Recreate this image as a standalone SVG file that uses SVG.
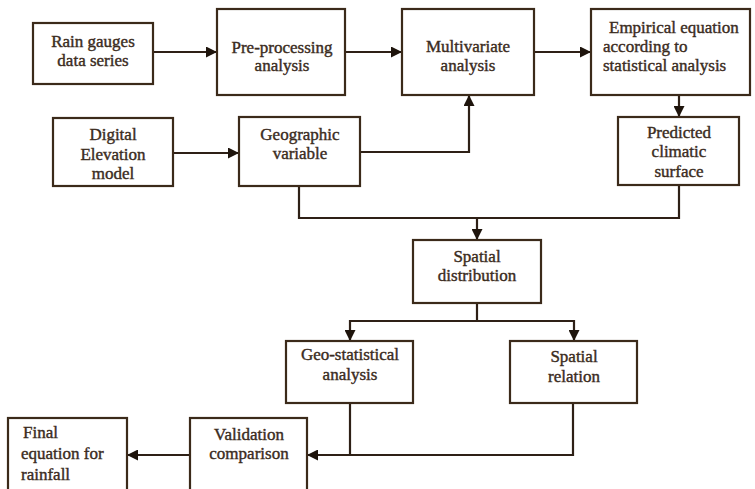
<svg xmlns="http://www.w3.org/2000/svg" width="755" height="489" viewBox="0 0 755 489">
<style>
.box{fill:#ffffff;stroke:#3b2a1a;stroke-width:2.2}
.t{font-family:"Liberation Serif","Times New Roman",serif;font-size:17px;fill:#3b2c1e;text-anchor:middle;stroke:#3b2c1e;stroke-width:0.4}
.ts{text-anchor:start}
.c{fill:none;stroke:#2e2016;stroke-width:2.2}
</style>
<defs>
<marker id="ah" viewBox="0 0 10 10" refX="10" refY="5" markerWidth="5.2" markerHeight="5" orient="auto" markerUnits="strokeWidth">
<path d="M0,0 L10,5 L0,10 z" fill="#1e140c"/>
</marker>
</defs>
<rect width="755" height="489" fill="#ffffff"/>
<g id="connectors">
<line class="c" x1="153" y1="52" x2="217" y2="52" marker-end="url(#ah)"/>
<line class="c" x1="345" y1="52" x2="402" y2="52" marker-end="url(#ah)"/>
<line class="c" x1="534" y1="52" x2="591" y2="52" marker-end="url(#ah)"/>
<line class="c" x1="173" y1="153" x2="239" y2="153" marker-end="url(#ah)"/>
<polyline class="c" points="360,152 469,152 469,95" marker-end="url(#ah)"/>
<line class="c" x1="679" y1="95" x2="679" y2="117" marker-end="url(#ah)"/>
<polyline class="c" points="299,186 299,218 679,218 679,185"/>
<line class="c" x1="477" y1="218" x2="477" y2="240" marker-end="url(#ah)"/>
<polyline class="c" points="477,303 477,321 350,321 350,341" marker-end="url(#ah)"/>
<polyline class="c" points="477,321 574,321 574,341" marker-end="url(#ah)"/>
<polyline class="c" points="573,403 573,455 307,455" marker-end="url(#ah)"/>
<line class="c" x1="350" y1="403" x2="350" y2="455"/>
<line class="c" x1="190" y1="455" x2="127" y2="455" marker-end="url(#ah)"/>
</g>
<g id="rain">
<rect class="box" x="33" y="23" width="120" height="61"/>
<text class="t" x="93" y="47">Rain gauges</text>
<text class="t" x="93" y="66">data series</text>
</g>
<g id="preproc">
<rect class="box" x="217" y="9" width="128" height="86"/>
<text class="t" x="282" y="53">Pre-processing</text>
<text class="t" x="282" y="71">analysis</text>
</g>
<g id="multi">
<rect class="box" x="402" y="9" width="132" height="86"/>
<text class="t" x="468" y="52">Multivariate</text>
<text class="t" x="468" y="71">analysis</text>
</g>
<g id="empirical">
<rect class="box" x="591" y="9" width="159" height="86"/>
<text class="t ts" x="609" y="33">Empirical equation</text>
<text class="t ts" x="603" y="52">according to</text>
<text class="t ts" x="603" y="71">statistical analysis</text>
</g>
<g id="dem">
<rect class="box" x="53" y="118" width="120" height="68"/>
<text class="t" x="113" y="140">Digital</text>
<text class="t" x="113" y="160">Elevation</text>
<text class="t" x="113" y="179">model</text>
</g>
<g id="geo">
<rect class="box" x="239" y="117" width="121" height="69"/>
<text class="t" x="300" y="140">Geographic</text>
<text class="t" x="300" y="159">variable</text>
</g>
<g id="predicted">
<rect class="box" x="618" y="117" width="121" height="68"/>
<text class="t" x="679" y="138">Predicted</text>
<text class="t" x="679" y="157">climatic</text>
<text class="t" x="679" y="177">surface</text>
</g>
<g id="spatialdist">
<rect class="box" x="413" y="240" width="128" height="63"/>
<text class="t" x="477" y="262">Spatial</text>
<text class="t" x="477" y="281">distribution</text>
</g>
<g id="geostat">
<rect class="box" x="286" y="341" width="127" height="62"/>
<text class="t" x="350" y="360">Geo-statistical</text>
<text class="t" x="350" y="380">analysis</text>
</g>
<g id="spatialrel">
<rect class="box" x="510" y="341" width="127" height="62"/>
<text class="t" x="574" y="362">Spatial</text>
<text class="t" x="574" y="382">relation</text>
</g>
<g id="validation">
<rect class="box" x="190" y="418" width="117" height="80"/>
<text class="t" x="249" y="440">Validation</text>
<text class="t" x="249" y="459">comparison</text>
</g>
<g id="final">
<rect class="box" x="8" y="418" width="119" height="80"/>
<text class="t ts" x="23" y="438">Final</text>
<text class="t ts" x="21" y="459">equation for</text>
<text class="t ts" x="21" y="480">rainfall</text>
</g>
</svg>
